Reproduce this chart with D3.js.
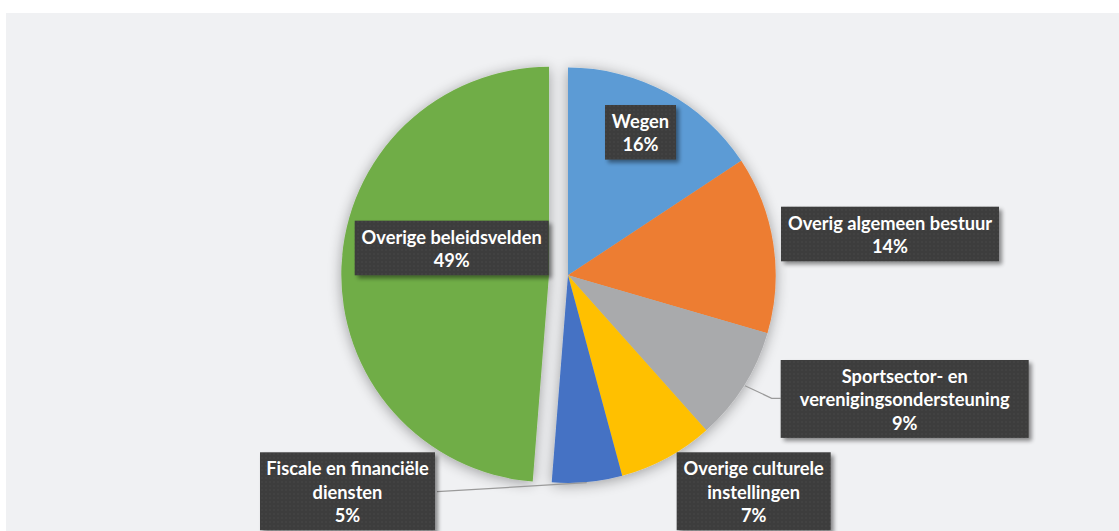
<!DOCTYPE html>
<html>
<head>
<meta charset="utf-8">
<script src="https://cdn.jsdelivr.net/npm/d3@7"></script>
<style>
  html, body { margin: 0; padding: 0; background: #ffffff; }
  svg { display: block; }
</style>
</head>
<body>
<svg id="chart" width="1119" height="531"></svg>
<script>
// ---- data ----
const categories = [
  "Wegen",
  "Overig algemeen bestuur",
  "Sportsector- en verenigingsondersteuning",
  "Overige culturele instellingen",
  "Fiscale en financiële diensten",
  "Overige beleidsvelden"
];
const values = [15.7, 13.8, 8.9, 7.4, 5.45, 48.75];
const labelLines = [
  ["Wegen"],
  ["Overig algemeen bestuur"],
  ["Sportsector- en", "verenigingsondersteuning"],
  ["Overige culturele", "instellingen"],
  ["Fiscale en financiële", "diensten"],
  ["Overige beleidsvelden"]
];
const colors = ["#5B9BD5", "#ED7D31", "#A9AAAC", "#FFC000", "#4472C4", "#70AD47"];

// ---- layout ----
const W = 1119, H = 531;
const center = [568, 275.3];
const radius = 207.7;
const explodeIndex = 5, explodeOffset = 19;
const labelAnchors = [
  { cx: 640.5, top: 105, w: 71 },
  { cx: 890, top: 206.7, w: 218 },
  { cx: 904.7, top: 360, w: 248 },
  { cx: 753.7, top: 452.3, w: 154 },
  { cx: 347.5, top: 452.3, w: 175 },
  { cx: 451.7, top: 220.7, w: 194 }
];
const leaders = [
  null, null,
  [[745, 385.7], [771.7, 398.3], [780.7, 398.3]],
  null,
  [[437, 491.7], [586.7, 482.7]],
  null
];
const lineH = 23.3;

const svg = d3.select("#chart");
const defs = svg.append("defs");

// pie shadow
const fPie = defs.append("filter").attr("id", "pieShadow")
  .attr("x", "-20%").attr("y", "-20%").attr("width", "140%").attr("height", "140%");
fPie.append("feGaussianBlur").attr("in", "SourceAlpha").attr("stdDeviation", 7).attr("result", "b");
fPie.append("feOffset").attr("in", "b").attr("dx", 0).attr("dy", 2).attr("result", "o");
fPie.append("feComponentTransfer").attr("in", "o").attr("result", "s")
  .append("feFuncA").attr("type", "linear").attr("slope", 0.36);
const m1 = fPie.append("feMerge");
m1.append("feMergeNode").attr("in", "s");
m1.append("feMergeNode").attr("in", "SourceGraphic");

// label shadow
const fLab = defs.append("filter").attr("id", "labShadow")
  .attr("x", "-20%").attr("y", "-20%").attr("width", "140%").attr("height", "150%");
fLab.append("feGaussianBlur").attr("in", "SourceAlpha").attr("stdDeviation", 2).attr("result", "b");
fLab.append("feOffset").attr("in", "b").attr("dx", 2.5).attr("dy", 2.5).attr("result", "o");
fLab.append("feComponentTransfer").attr("in", "o").attr("result", "s")
  .append("feFuncA").attr("type", "linear").attr("slope", 0.45);
const m2 = fLab.append("feMerge");
m2.append("feMergeNode").attr("in", "s");
m2.append("feMergeNode").attr("in", "SourceGraphic");

// dotted texture
const pat = defs.append("pattern").attr("id", "dots")
  .attr("patternUnits", "userSpaceOnUse").attr("width", 4).attr("height", 4);
pat.append("rect").attr("width", 4).attr("height", 4).attr("fill", "#3c3c3c");
pat.append("circle").attr("cx", 2).attr("cy", 2).attr("r", 0.8).attr("fill", "#4b4b4b");

// chart area background
svg.append("rect").attr("x", 6).attr("y", 13).attr("width", W - 6).attr("height", H - 13)
  .attr("fill", "#f0f1f3");

// pie
const pie = d3.pie().sort(null).value(d => d)(values);
const arc = d3.arc().innerRadius(0).outerRadius(radius);
const gPie = svg.append("g").attr("transform", `translate(${center[0]},${center[1]})`)
  .attr("filter", "url(#pieShadow)");
gPie.selectAll("path").data(pie).join("path")
  .attr("d", arc)
  .attr("fill", (d, i) => colors[i])
  .attr("transform", (d, i) => {
    if (i !== explodeIndex) return null;
    const a = (d.startAngle + d.endAngle) / 2;
    return `translate(${Math.sin(a) * explodeOffset},${-Math.cos(a) * explodeOffset})`;
  });

// leader lines
const line = d3.line();
svg.append("g").selectAll("path").data(leaders.filter(l => l)).join("path")
  .attr("d", d => line(d))
  .attr("fill", "none").attr("stroke", "#9a9a9a").attr("stroke-width", 1.2);

// font fit: match reference text width
const fontFamily = "Lato, 'Open Sans', sans-serif";
const probe = svg.append("text").attr("font-family", fontFamily).attr("font-weight", 700)
  .attr("font-size", 18).text("verenigingsondersteuning");
const pw = probe.node().getComputedTextLength();
probe.remove();
const fontSize = pw > 0 ? 18 * 210 / pw : 17.5;

// labels
const gLab = svg.append("g");
labelLines.forEach((lines, i) => {
  const all = lines.concat([Math.round(values[i]) + "%"]);
  const a = labelAnchors[i];
  const g = gLab.append("g");
  g.append("rect").attr("fill", "url(#dots)").attr("filter", "url(#labShadow)")
    .attr("x", a.cx - a.w / 2).attr("y", a.top)
    .attr("width", a.w).attr("height", all.length * lineH + 8);
  const t = g.append("text").attr("font-family", fontFamily).attr("font-weight", 700)
    .attr("font-size", fontSize).attr("fill", "#ffffff").attr("text-anchor", "middle");
  all.forEach((s, j) => {
    t.append("tspan").attr("x", a.cx)
      .attr("y", a.top + lineH * (j + 1) - 0.3).text(s);
  });
});
</script>
</body>
</html>
